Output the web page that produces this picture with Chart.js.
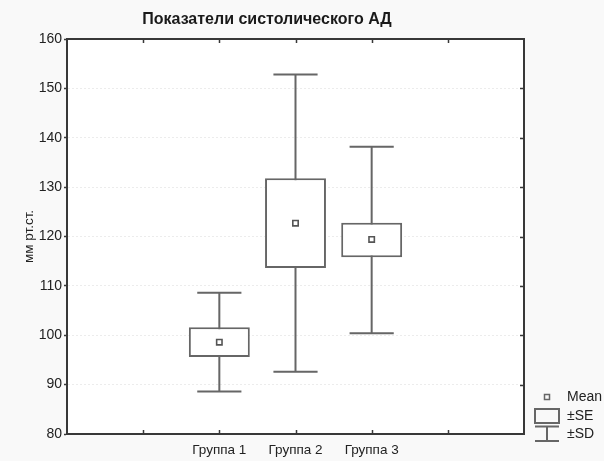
<!DOCTYPE html>
<html>
<head>
<meta charset="utf-8">
<script src="https://cdn.jsdelivr.net/npm/chart.js@4.4.0/dist/chart.umd.min.js"></script>
<style>
  html, body { margin: 0; padding: 0; background: #f9f9f9; }
</style>
</head>
<body>
<canvas id="chart" width="604" height="461"></canvas>
<script>
// slots on the x axis (groups sit in the middle three)
const slotLabels = ['', '', 'Группа 1', 'Группа 2', 'Группа 3', '', ''];
const groups = ['Группа 1', 'Группа 2', 'Группа 3'];
const means = [98.6, 122.7, 119.4];
const seLow = [95.6, 113.6, 115.8];
const seHigh = [101.6, 131.8, 122.8];
const sdLow = [88.6, 92.6, 100.4];
const sdHigh = [108.6, 152.8, 138.2];
const yMin = 80, yMax = 160, yStep = 10;
const legendLabels = ['Mean', '±SE', '±SD'];

const FONT = "'Liberation Sans', Arial, sans-serif";
const boxColor = '#666666';
const frameColor = '#383838';
const textColor = '#222222';

const seData = slotLabels.map(l => {
    const i = groups.indexOf(l);
    return i < 0 ? null : [seLow[i], seHigh[i]];
});
const meanData = slotLabels.map(l => {
    const i = groups.indexOf(l);
    return i < 0 ? null : means[i];
});

// white plot area on light grey page
const background = {
    id: 'background',
    beforeDraw(chart) {
        const {ctx, chartArea: a} = chart;
        ctx.save();
        ctx.fillStyle = '#f9f9f9';
        ctx.fillRect(0, 0, chart.width, chart.height);
        ctx.fillStyle = '#ffffff';
        ctx.fillRect(a.left, a.top, a.right - a.left, a.bottom - a.top);
        ctx.restore();
    }
};

// ±SD whiskers, drawn under the SE boxes
const whiskers = {
    id: 'whiskers',
    beforeDatasetsDraw(chart) {
        const {ctx, scales: {x, y}} = chart;
        const capW = (x.getPixelForValue(1) - x.getPixelForValue(0)) * 0.58;
        ctx.save();
        ctx.strokeStyle = boxColor;
        ctx.lineWidth = 2;
        groups.forEach((g, i) => {
            const px = x.getPixelForValue(slotLabels.indexOf(g));
            const top = y.getPixelForValue(sdHigh[i]);
            const bot = y.getPixelForValue(sdLow[i]);
            ctx.beginPath();
            ctx.moveTo(px, top);
            ctx.lineTo(px, bot);
            ctx.moveTo(px - capW / 2, top);
            ctx.lineTo(px + capW / 2, top);
            ctx.moveTo(px - capW / 2, bot);
            ctx.lineTo(px + capW / 2, bot);
            ctx.stroke();
        });
        ctx.restore();
    }
};

// top/right frame and the inward tick marks
const frame = {
    id: 'frame',
    afterDatasetsDraw(chart) {
        const {ctx, chartArea: a, scales: {x, y}} = chart;
        ctx.save();
        ctx.strokeStyle = frameColor;
        ctx.lineWidth = 2;
        ctx.beginPath();
        ctx.moveTo(a.left - 1, a.top);
        ctx.lineTo(a.right, a.top);
        ctx.lineTo(a.right, a.bottom + 1);
        ctx.stroke();
        ctx.lineWidth = 1.5;
        ctx.beginPath();
        x.ticks.forEach((t, i) => {
            const px = Math.round(x.getPixelForTick(i)) + 0.5;
            if (px <= a.left + 2 || px >= a.right - 2) return;
            ctx.moveTo(px, a.top);
            ctx.lineTo(px, a.top + 4);
            ctx.moveTo(px, a.bottom);
            ctx.lineTo(px, a.bottom - 4);
        });
        y.ticks.forEach(t => {
            const py = Math.round(y.getPixelForValue(t.value)) + 0.5;
            if (py <= a.top + 2 || py >= a.bottom - 2) return;
            ctx.moveTo(a.right, py);
            ctx.lineTo(a.right - 4, py);
        });
        ctx.stroke();
        ctx.restore();
    }
};

// legend: mean marker, SE box, SD whisker
const boxLegend = {
    id: 'boxLegend',
    afterDraw(chart) {
        const {ctx, chartArea: a} = chart;
        const gx = a.right + 23;
        const tx = a.right + 43;
        const b = a.bottom;
        ctx.save();
        ctx.strokeStyle = boxColor;
        ctx.fillStyle = '#ffffff';
        ctx.lineWidth = 1.5;
        ctx.strokeRect(gx - 2.5, b - 39.5, 5, 5);
        ctx.lineWidth = 2;
        ctx.strokeRect(gx - 12, b - 25, 24, 14);
        ctx.beginPath();
        ctx.moveTo(gx - 12, b - 7.5);
        ctx.lineTo(gx + 12, b - 7.5);
        ctx.moveTo(gx, b - 7.5);
        ctx.lineTo(gx, b + 7);
        ctx.moveTo(gx - 12, b + 7);
        ctx.lineTo(gx + 12, b + 7);
        ctx.stroke();
        ctx.fillStyle = textColor;
        ctx.font = '14px ' + FONT;
        ctx.textBaseline = 'middle';
        ctx.textAlign = 'left';
        ctx.fillText(legendLabels[0], tx, b - 36.5);
        ctx.fillText(legendLabels[1], tx, b - 18);
        ctx.fillText(legendLabels[2], tx, b);
        ctx.restore();
    }
};

new Chart(document.getElementById('chart').getContext('2d'), {
    type: 'bar',
    data: {
        labels: slotLabels,
        datasets: [
            {
                type: 'line',
                label: 'Mean',
                data: meanData,
                showLine: false,
                pointStyle: 'rect',
                pointRadius: 3.8,
                pointBorderWidth: 1.6,
                pointBorderColor: '#555555',
                pointBackgroundColor: '#ffffff',
                order: 0
            },
            {
                label: '±SE',
                data: seData,
                backgroundColor: '#ffffff',
                borderColor: boxColor,
                borderWidth: 2,
                borderSkipped: false,
                barPercentage: 1,
                categoryPercentage: 0.8,
                order: 1
            }
        ]
    },
    options: {
        responsive: false,
        animation: false,
        layout: {padding: {left: 10, right: 80, top: 0, bottom: 0}},
        scales: {
            x: {
                type: 'category',
                offset: false,
                grid: {display: false, drawTicks: false},
                border: {display: true, color: frameColor, width: 2},
                ticks: {
                    autoSkip: false,
                    maxRotation: 0,
                    padding: 8.5,
                    color: textColor,
                    font: {family: FONT, size: 13.5}
                },
                afterFit: s => { s.height = 27; }
            },
            y: {
                min: yMin,
                max: yMax,
                grid: {
                    color: '#ececec',
                    lineWidth: 1,
                    drawTicks: true,
                    tickLength: 3,
                    tickColor: frameColor,
                    tickWidth: 1.5
                },
                border: {display: true, color: frameColor, width: 2, dash: [2, 2]},
                ticks: {
                    stepSize: yStep,
                    padding: 2,
                    color: textColor,
                    font: {family: FONT, size: 14}
                },
                title: {
                    display: true,
                    text: 'мм рт.ст.',
                    color: textColor,
                    font: {family: FONT, size: 13.5},
                    padding: {top: 11, bottom: 0}
                },
                afterFit: s => { s.width = 57; }
            }
        },
        plugins: {
            legend: {display: false},
            tooltip: {enabled: false},
            title: {
                display: true,
                text: 'Показатели систолического АД',
                color: '#1a1a1a',
                font: {family: FONT, size: 16, weight: 'bold'},
                padding: {top: 10.4, bottom: 9.4}
            }
        }
    },
    plugins: [background, whiskers, frame, boxLegend]
});
</script>
</body>
</html>
